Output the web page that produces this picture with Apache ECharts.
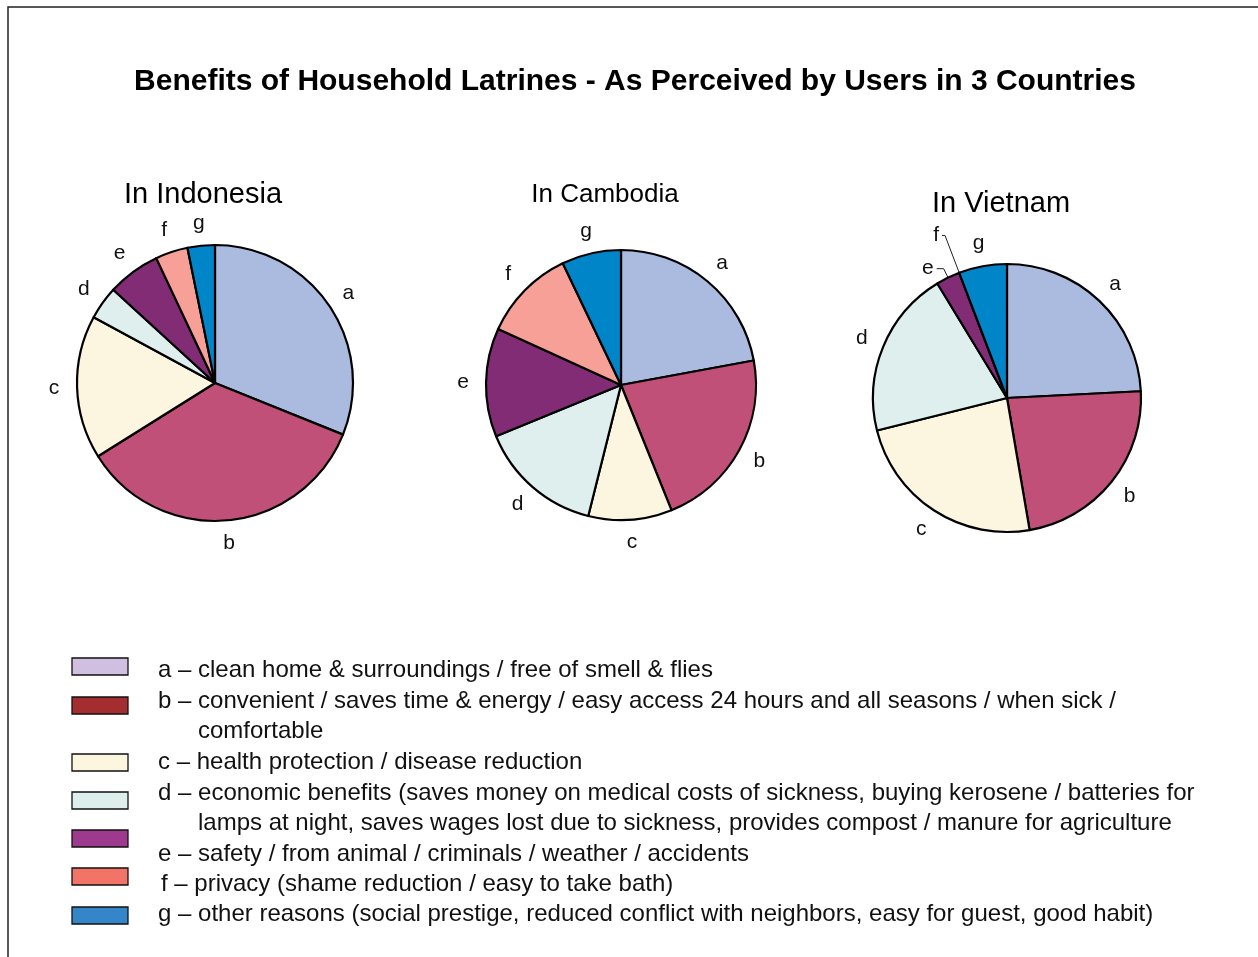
<!DOCTYPE html>
<html>
<head>
<meta charset="utf-8">
<script src="https://cdn.jsdelivr.net/npm/echarts@6/dist/echarts.min.js"></script>
<style>
  html, body { margin: 0; padding: 0; background: #fff; }
  #chart { width: 1258px; height: 957px; }
</style>
</head>
<body>
<div id="chart"></div>
<script>
// slice letters, clockwise from 12 o'clock
const categories = ['a', 'b', 'c', 'd', 'e', 'f', 'g'];
const countries = ['In Indonesia', 'In Cambodia', 'In Vietnam'];

// shares (%)
const indonesia = [31.1, 35.0, 16.8, 3.9, 6.2, 3.8, 3.2];
const cambodia = [22.1, 21.8, 10.0, 14.9, 13.0, 11.1, 7.1];
const vietnam = [24.2, 23.1, 23.8, 20.2, 2.9, 0, 5.8];

const pieColors = ['#ABBADF', '#C05078', '#FCF5DF', '#DFEFED', '#832C76', '#F6A097', '#0086C8'];
// the legend boxes use a slightly different palette in the original
const legendColors = ['#D0BFE0', '#A42D2F', '#FDF6DF', '#DEEEEC', '#9D3A8E', '#F27466', '#3586C9'];

// legend text, one entry per line; indent = continuation line
const legendLines = [
  'a \u2013 clean home & surroundings / free of smell & flies',
  'b \u2013 convenient / saves time & energy / easy access 24 hours and all seasons / when sick /',
  'comfortable',
  'c \u2013 health protection / disease reduction',
  'd \u2013 economic benefits (saves money on medical costs of sickness, buying kerosene / batteries for',
  'lamps at night, saves wages lost due to sickness, provides compost / manure for agriculture',
  'e \u2013 safety / from animal / criminals / weather / accidents',
  'f \u2013 privacy (shame reduction / easy to take bath)',
  'g \u2013 other reasons (social prestige, reduced conflict with neighbors, easy for guest, good habit)'
];
const legendIndent = [0, 0, 40, 0, 0, 40, 0, 3, 0];

const FONT = '"Liberation Sans", Arial, Helvetica, sans-serif';

var chartDom = document.getElementById('chart');
var myChart = echarts.init(chartDom);

const pieCfg = [
  { data: indonesia, center: [215, 383], r: 138 },
  { data: cambodia, center: [621, 385], r: 135 },
  { data: vietnam, center: [1007, 398], r: 134 }
];

// in Vietnam e and f are too thin, they get leader lines instead
function hasLeader(si, c) {
  return si === 2 && (c === 'e' || c === 'f');
}

const series = [];
pieCfg.forEach(function (p, si) {
  // the slices
  series.push({
    type: 'pie',
    center: p.center,
    radius: [0, p.r],
    startAngle: 90,
    clockwise: true,
    silent: true,
    avoidLabelOverlap: false,
    itemStyle: { borderColor: '#000', borderWidth: 2.2 },
    label: {
      show: false,
      position: 'outside',
      formatter: '{b}',
      fontFamily: FONT,
      fontSize: 21,
      color: '#111',
      distanceToLabelLine: 3
    },
    labelLine: { show: false },
    data: categories.map(function (c, i) {
      var item = { name: c, value: p.data[i], itemStyle: { color: pieColors[i] } };
      if (hasLeader(si, c)) {
        item.label = { show: true };
        item.labelLine = {
          show: true,
          length: c === 'e' ? 10 : 40,
          length2: c === 'e' ? 7 : 3,
          lineStyle: { color: '#222', width: 1 }
        };
      }
      return item;
    })
  });
  // an empty ring just outside, only used to place the letters around the pie
  series.push({
    type: 'pie',
    center: p.center,
    radius: [p.r + 8, p.r + 32],
    startAngle: 90,
    clockwise: true,
    silent: true,
    avoidLabelOverlap: false,
    itemStyle: { color: 'rgba(0,0,0,0)', borderWidth: 0 },
    label: {
      show: true,
      position: 'inside',
      formatter: '{b}',
      fontFamily: FONT,
      fontSize: 21,
      color: '#111'
    },
    labelLine: { show: false },
    data: categories.map(function (c, i) {
      var item = { name: c, value: p.data[i] };
      if (hasLeader(si, c)) item.label = { show: false };
      return item;
    })
  });
});

const graphic = [
  {
    type: 'rect',
    shape: { x: 8, y: 7, width: 1300, height: 1000 },
    style: { fill: 'none', stroke: '#222', lineWidth: 1.5 },
    silent: true
  }
];

// legend boxes
const boxTops = [658, 697, 754, 792, 830, 868, 907];
categories.forEach(function (c, i) {
  graphic.push({
    type: 'rect',
    shape: { x: 72, y: boxTops[i], width: 56, height: 17 },
    style: { fill: legendColors[i], stroke: '#111', lineWidth: 1.3 },
    silent: true
  });
});

// legend text lines
const lineY = [670, 701, 731, 762, 793, 823, 854, 884, 914];
legendLines.forEach(function (t, i) {
  graphic.push({
    type: 'text',
    x: 158 + legendIndent[i],
    y: lineY[i],
    style: {
      text: t,
      font: '24px ' + FONT,
      fill: '#111',
      textVerticalAlign: 'middle'
    },
    silent: true
  });
});

var option = {
  backgroundColor: '#fff',
  animation: false,
  title: [
    {
      text: 'Benefits of Household Latrines - As Perceived by Users in 3 Countries',
      left: 635,
      top: 67,
      padding: 0,
      textAlign: 'center',
      textStyle: { fontFamily: FONT, fontSize: 30, fontWeight: 'bold', color: '#000' }
    },
    {
      text: countries[0],
      left: 203, top: 180, padding: 0,
      textAlign: 'center',
      textStyle: { fontFamily: FONT, fontSize: 29, fontWeight: 'normal', color: '#000' }
    },
    {
      text: countries[1],
      left: 605, top: 182, padding: 0,
      textAlign: 'center',
      textStyle: { fontFamily: FONT, fontSize: 26, fontWeight: 'normal', color: '#000' }
    },
    {
      text: countries[2],
      left: 1001, top: 189, padding: 0,
      textAlign: 'center',
      textStyle: { fontFamily: FONT, fontSize: 29, fontWeight: 'normal', color: '#000' }
    }
  ],
  graphic: graphic,
  series: series
};

option && myChart.setOption(option);
</script>
</body>
</html>
